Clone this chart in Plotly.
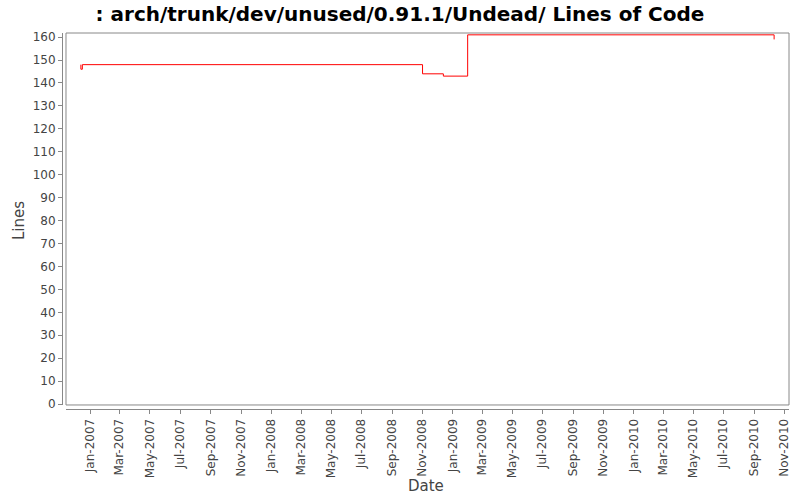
import plotly.graph_objects as go

# step data: date of change -> lines of code
dates = ["2006-12-13", "2006-12-13", "2006-12-16", "2008-11-01",
         "2008-12-13", "2009-01-31", "2010-10-11"]
lines = [148, 146, 148, 144, 143, 161, 159]

title = ": arch/trunk/dev/unused/0.91.1/Undead/ Lines of Code"

fig = go.Figure()
fig.add_trace(go.Scatter(
    x=dates, y=lines,
    mode="lines",
    line=dict(color="#ff0000", width=1, shape="hv"),
    showlegend=False,
))

# plot frame (the axes themselves sit a few px outside it)
fig.add_shape(type="rect", xref="x domain", yref="y domain",
              x0=0, x1=1, y0=0, y1=1,
              line=dict(color="#888888", width=1))

# axis titles as annotations so the margins stay fixed
fig.add_annotation(text="Date", xref="paper", yref="paper",
                   x=0.5, y=-0.205, xanchor="center", yanchor="middle",
                   showarrow=False, font=dict(size=15, color="#444444"))
fig.add_annotation(text="Lines", xref="paper", yref="paper",
                   x=-0.059, y=0.5, xanchor="center", yanchor="middle",
                   textangle=-90, showarrow=False,
                   font=dict(size=15, color="#444444"))

fig.update_layout(
    width=800, height=500,
    paper_bgcolor="white", plot_bgcolor="white",
    margin=dict(l=62, r=11, t=33, b=91),
    font=dict(family="DejaVu Sans", size=11, color="#444444"),
    title=dict(text="<b>" + title + "</b>", x=0.5, xanchor="center",
               y=0.972, yanchor="middle",
               font=dict(size=20, color="black")),
    xaxis=dict(
        domain=[0.0055, 1],
        anchor="free", position=0,
        range=["2006-11-13", "2010-11-10"],
        type="date",
        tick0="2007-01-01", dtick="M2",
        tickformat="%b-%Y", tickangle=-90,
        ticks="outside", ticklen=4, tickcolor="#888888",
        showline=True, linecolor="#888888", linewidth=1,
        showgrid=False, zeroline=False, automargin=False,
        tickfont=dict(size=12),
    ),
    yaxis=dict(
        domain=[0.0107, 1],
        anchor="free", position=0,
        range=[-0.4, 161.8],
        tick0=0, dtick=10,
        ticks="outside", ticklen=4, tickcolor="#888888",
        showline=True, linecolor="#888888", linewidth=1,
        showgrid=False, zeroline=False, automargin=False,
        tickfont=dict(size=12),
    ),
)

# drop the browser's default 8px body margin so the figure sits at 0,0
fig.write_html("out.html", config={"displayModeBar": False},
               post_script="document.body.style.margin='0px';")
